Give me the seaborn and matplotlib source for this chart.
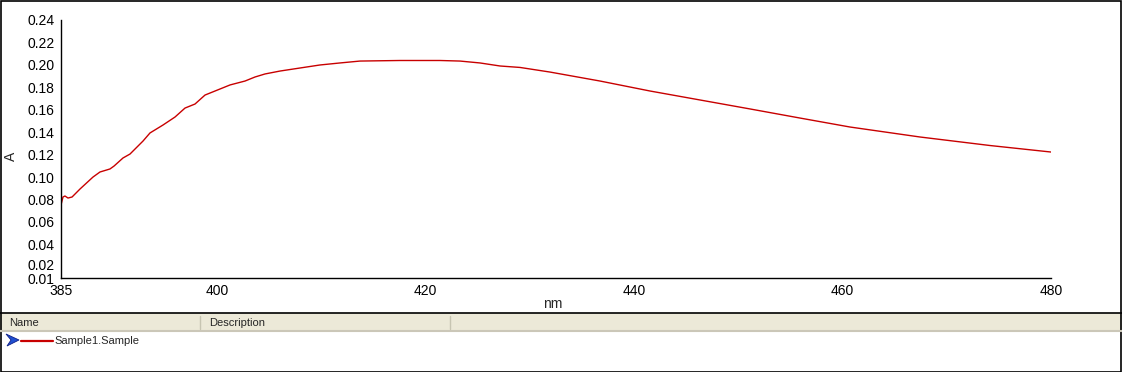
import matplotlib
matplotlib.use("Agg")
import matplotlib.pyplot as plt
import matplotlib.transforms as mtransforms
import seaborn as sns
import pandas as pd
from matplotlib.patches import Rectangle, Polygon
from matplotlib.lines import Line2D

# ---- data ----
wavelength_nm = [385.0, 385.19, 385.38, 385.67, 386.06, 386.82, 388.07, 388.74,
                 389.70, 390.09, 390.95, 391.62, 392.87, 393.54, 394.79, 395.94,
                 396.90, 397.86, 398.82, 399.78, 401.22, 402.66, 403.62, 404.58,
                 406.02, 407.93, 409.85, 411.77, 413.69, 417.53, 421.37, 423.29,
                 425.21, 427.13, 429.05, 431.92, 436.72, 441.52, 446.32, 451.12,
                 455.91, 460.71, 467.43, 474.15, 480.0]
absorbance = [0.0751, 0.0822, 0.0831, 0.0813, 0.0822, 0.0893, 0.1000, 0.1045,
              0.1072, 0.1098, 0.1170, 0.1205, 0.1321, 0.1393, 0.1464, 0.1535,
              0.1615, 0.1651, 0.1731, 0.1767, 0.1821, 0.1856, 0.1892, 0.1919,
              0.1945, 0.1972, 0.1999, 0.2017, 0.2034, 0.2039, 0.2039, 0.2034,
              0.2017, 0.1990, 0.1977, 0.1936, 0.1856, 0.1767, 0.1687, 0.1607,
              0.1526, 0.1446, 0.1357, 0.1281, 0.1223]
x_ticks = [385, 400, 420, 440, 460, 480]
y_ticks = [0.01, 0.02, 0.04, 0.06, 0.08, 0.10, 0.12, 0.14, 0.16, 0.18, 0.20, 0.22, 0.24]
y_tick_labels = ["0.01", "0.02", "0.04", "0.06", "0.08", "0.10", "0.12", "0.14",
                 "0.16", "0.18", "0.20", "0.22", "0.24"]
series_name = "Sample1.Sample"
table_columns = ["Name", "Description"]

sns.set_style("white")
plt.rcParams["font.family"] = ["Liberation Sans", "DejaVu Sans"]

W, H = 1122, 372
fig = plt.figure(figsize=(W / 100, H / 100), dpi=100)
ax = fig.add_axes([61 / W, (H - 278) / H, (1051 - 61) / W, (278 - 20) / H])

df = pd.DataFrame({"nm": wavelength_nm, "A": absorbance})
sns.lineplot(data=df, x="nm", y="A", ax=ax, color="#C80000", linewidth=1.0)

ax.set_xlim(385, 480)
ax.set_ylim(0.01, 0.24)
ax.set_xticks(x_ticks)
ax.set_xticklabels([str(t) for t in x_ticks])
ax.set_yticks(y_ticks)
ax.set_yticklabels(y_tick_labels)
for s in ["top", "right"]:
    ax.spines[s].set_visible(False)
for s in ["left", "bottom"]:
    ax.spines[s].set_color("black")
    ax.spines[s].set_linewidth(1.0)
ax.tick_params(axis="both", direction="out", length=3.5, width=1.0, color="black",
               labelsize=10, labelcolor="black", pad=1)
ax.set_xlabel("nm", fontsize=10, labelpad=0)
ax.set_ylabel("A", fontsize=10, va="center")
ax.yaxis.set_label_coords((11 - 61) / (1051 - 61), 0.47)
ax.xaxis.set_label_coords(0.497, -0.075)
ax.grid(False)

# nudge the crowded bottom labels apart, as in the reference
lbls = ax.get_yticklabels()
lbls[1].set_transform(lbls[1].get_transform() +
                      mtransforms.ScaledTranslation(0, 2.5 / 100, fig.dpi_scale_trans))
lbls[0].set_transform(lbls[0].get_transform() +
                      mtransforms.ScaledTranslation(0, -1.0 / 100, fig.dpi_scale_trans))

# ---- lower legend table panel (pixel coordinates) ----
def px(x, y):
    return x / W, (H - y) / H

tr = fig.transFigure
fig.add_artist(Rectangle(px(0, 332), 1.0, 19 / H, transform=tr,
                         facecolor="#ECE9D8", edgecolor="none"))
fig.add_artist(Line2D([0, 1], [px(0, 331)[1]] * 2, transform=tr, color="#CBC7B8", lw=1.5))
fig.add_artist(Line2D([0, 1], [px(0, 312.5)[1]] * 2, transform=tr, color="black", lw=1.2))
for cx in [200, 450]:
    fig.add_artist(Line2D([px(cx, 0)[0]] * 2, [px(0, 316)[1], px(0, 329)[1]],
                          transform=tr, color="#C7C5B2", lw=1.0))
fig.text(*px(9, 323), table_columns[0], fontsize=8, va="center", ha="left")
fig.text(*px(209, 323), table_columns[1], fontsize=8, va="center", ha="left")

# legend row
fig.add_artist(Polygon([px(6, 334), px(19, 340), px(7, 346), px(11, 340)], closed=True,
                       transform=tr, facecolor="#1F4FD0", edgecolor="#10208A", lw=0.6))
fig.add_artist(Line2D([px(21, 0)[0], px(53, 0)[0]], [px(0, 340.5)[1]] * 2,
                      transform=tr, color="#C80000", lw=1.6))
fig.text(*px(54, 341), series_name, fontsize=8, va="center", ha="left")

# outer border
fig.add_artist(Rectangle((0.5 / W, 0.5 / H), 1 - 1.5 / W, 1 - 1.5 / H, transform=tr,
                         facecolor="none", edgecolor="black", lw=1.2))

fig.savefig("out.png", dpi=100)
